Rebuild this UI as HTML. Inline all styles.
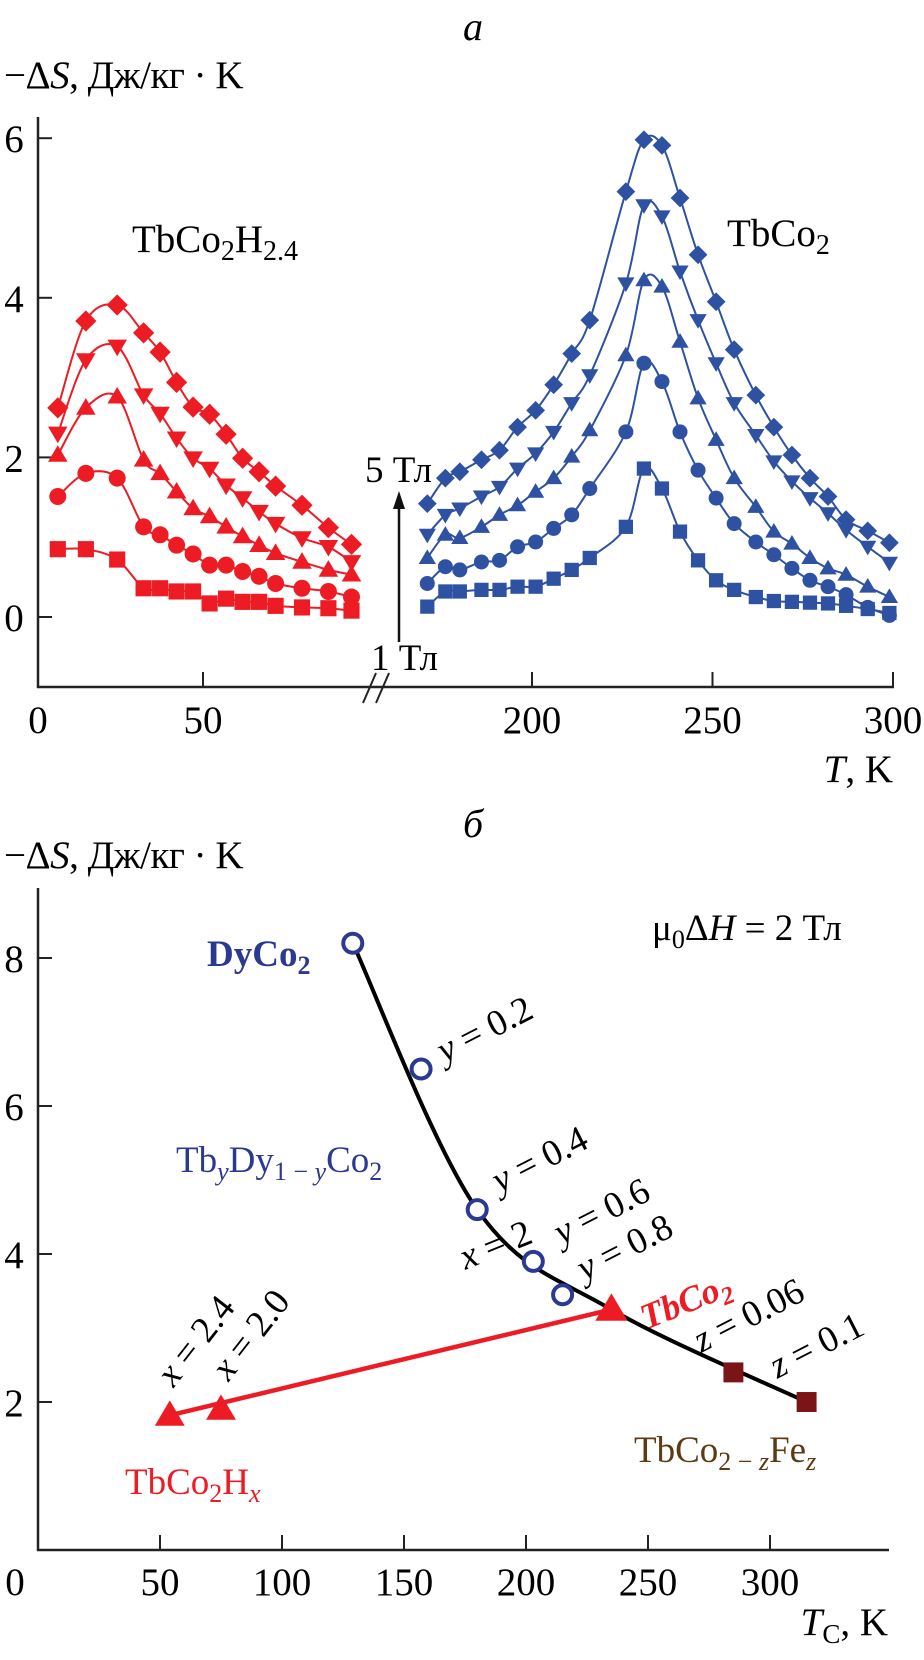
<!DOCTYPE html>
<html><head><meta charset="utf-8">
<style>
html,body{margin:0;padding:0;background:#fff;}
svg{display:block;font-family:"Liberation Serif",serif;}
</style></head>
<body>
<svg id="fig" width="924" height="1660" viewBox="0 0 924 1660" xmlns="http://www.w3.org/2000/svg">
<g id="top">
  <text x="473" y="40" font-size="40" font-style="italic" text-anchor="middle">а</text>
  <text x="4" y="88" font-size="39" letter-spacing="-0.5">−Δ<tspan font-style="italic">S</tspan>, Дж/кг · K</text>
  <line x1="38" y1="117" x2="38" y2="688" stroke="#222" stroke-width="2.5"/>
  <line x1="37" y1="687" x2="894" y2="687" stroke="#222" stroke-width="2.5"/>
  <g stroke="#222" stroke-width="2">
    <line x1="363" y1="703" x2="376" y2="673"/><line x1="376" y1="703" x2="389" y2="673"/>
  </g>
  <text x="893" y="782" font-size="39" text-anchor="end"><tspan font-style="italic">T</tspan>, K</text>
  <text x="215" y="252" font-size="39" text-anchor="middle">TbCo<tspan font-size="28" dy="8">2</tspan><tspan dy="-8">H</tspan><tspan font-size="28" dy="8">2.4</tspan></text>
  <text x="727" y="246" font-size="39">TbCo<tspan font-size="28" dy="8">2</tspan></text>
  <text x="432" y="482" font-size="37" text-anchor="end">5 Тл</text>
  <text x="438" y="670" font-size="37" text-anchor="end">1 Тл</text>
  <g>
    <line x1="399" y1="642" x2="399" y2="505" stroke="#111" stroke-width="2.5"/>
    <polygon points="399,491 393,509 405,509" fill="#111"/>
  </g>
  <g id="topAxes"></g>
  <g id="topSeries"></g>
</g>
<g id="bot">
  <text x="473" y="837" font-size="40" font-style="italic" text-anchor="middle">б</text>
  <text x="4" y="868" font-size="39" letter-spacing="-0.5">−Δ<tspan font-style="italic">S</tspan>, Дж/кг · K</text>
  <line x1="38" y1="888" x2="38" y2="1551" stroke="#222" stroke-width="2.5"/>
  <line x1="37" y1="1550" x2="889" y2="1550" stroke="#222" stroke-width="2.5"/>
  <text x="888" y="1635" font-size="39" text-anchor="end"><tspan font-style="italic">T</tspan><tspan font-size="27" dy="8">C</tspan><tspan dy="-8">, K</tspan></text>
  <text x="652" y="940" font-size="37">μ<tspan font-size="26" dy="8">0</tspan><tspan dy="-8">Δ</tspan><tspan font-style="italic">H</tspan> = 2 Тл</text>
  <text x="207" y="966" font-size="37" font-weight="bold" fill="#2b3990">DyCo<tspan font-size="26" dy="8">2</tspan></text>
  <text x="176" y="1172" font-size="37" fill="#2b3990">Tb<tspan font-size="26" dy="8" font-style="italic">y</tspan><tspan dy="-8">Dy</tspan><tspan font-size="26" dy="8">1 − </tspan><tspan font-size="26" font-style="italic">y</tspan><tspan dy="-8">Co</tspan><tspan font-size="26" dy="8">2</tspan></text>
  <text x="125" y="1494" font-size="37" fill="#ed1c24">TbCo<tspan font-size="26" dy="8">2</tspan><tspan dy="-8">H</tspan><tspan font-size="26" dy="8" font-style="italic">x</tspan></text>
  <text x="634" y="1462" font-size="37" fill="#5c3a14">TbCo<tspan font-size="26" dy="8">2 − </tspan><tspan font-size="26" font-style="italic">z</tspan><tspan dy="-8">Fe</tspan><tspan font-size="26" dy="8" font-style="italic">z</tspan></text>
  <text transform="translate(690,1312) rotate(-22)" font-size="36" font-weight="bold" font-style="italic" fill="#ed1c24" text-anchor="middle">TbCo<tspan font-size="25" dy="7">2</tspan></text>
  <g id="botAxes"></g>
  <g id="botSeries"></g>
  <g id="botLabels" font-size="37"></g>
</g>
</svg>
<script>
// ---------- Panel a data ----------
var leftT = [6,14.5,24,32,37,42,47,52,57,62,67,72,80,88,95];
var red5T = [2.62,3.71,3.91,3.56,3.32,2.94,2.63,2.54,2.29,1.99,1.82,1.64,1.40,1.12,0.91];
var red4T = [2.30,3.22,3.39,2.78,2.55,2.24,1.99,1.86,1.65,1.49,1.32,1.17,0.99,0.88,0.69];
var red3T = [2.03,2.62,2.76,1.97,1.80,1.57,1.36,1.26,1.13,1.01,0.90,0.80,0.69,0.59,0.53];
var red2T = [1.51,1.80,1.74,1.13,1.03,0.90,0.79,0.65,0.65,0.57,0.51,0.42,0.36,0.32,0.25];
var red1T = [0.85,0.85,0.72,0.36,0.36,0.32,0.32,0.17,0.23,0.19,0.19,0.14,0.12,0.11,0.08];
var rightT = [171,176,180,186,191,196,201,206,211,216,226,231,236,241,246,251,256,262,267,272,277,282,287,293,299];
var blue5T = [1.42,1.74,1.82,1.97,2.09,2.38,2.59,2.91,3.30,3.72,5.33,5.98,5.91,5.25,4.54,3.95,3.35,2.78,2.38,2.03,1.74,1.51,1.22,1.08,0.93];
var blue4T = [1.03,1.28,1.36,1.51,1.63,1.86,2.05,2.32,2.68,3.03,4.18,5.16,5.02,4.33,3.72,3.18,2.68,2.28,1.95,1.70,1.49,1.30,1.09,0.88,0.68];
var blue3T = [0.74,1.03,0.99,1.13,1.28,1.40,1.57,1.74,2.01,2.34,3.28,4.22,4.14,3.45,2.74,2.22,1.74,1.38,1.07,0.92,0.74,0.61,0.53,0.38,0.25];
var blue2T = [0.42,0.63,0.59,0.69,0.71,0.88,0.94,1.11,1.28,1.61,2.32,3.18,2.95,2.32,1.84,1.49,1.17,0.94,0.78,0.61,0.46,0.38,0.28,0.12,0.02];
var blue1T = [0.13,0.32,0.32,0.34,0.34,0.38,0.38,0.48,0.59,0.74,1.13,1.86,1.61,1.07,0.71,0.46,0.34,0.25,0.20,0.19,0.18,0.17,0.14,0.10,0.05];
var topYTicks = [0,2,4,6];
var topXTicksLeft = [0,50];
var topXTicksRight = [200,250,300];
// ---------- Panel b data ----------
var tbdyNames = ["DyCo2","y = 0.2","y = 0.4","y = 0.6","y = 0.8","TbCo2"];
var tbdyTc = [129,157,180,203,215,235];
var tbdyS = [8.2,6.5,4.6,3.9,3.45,3.25];
var feNames = ["z = 0.06","z = 0.1"];
var feTc = [285,315];
var feS = [2.4,2.0];
var hNames = ["x = 2.0","x = 2.4"];
var hTc = [75,54];
var hS = [1.9,1.82];
var botYTicks = [2,4,6,8];
var botXTicks = [0,50,100,150,200,250,300];

var NS = "http://www.w3.org/2000/svg";
function mk(tag, attrs, parent){var e=document.createElementNS(NS,tag);for(var k in attrs)e.setAttribute(k,attrs[k]);parent.appendChild(e);return e;}
function xL(t){return 38+t*3.3;}
function xR(t){return 532+(t-200)*3.61;}
function yA(v){return 617-v*79.8;}
function xB(t){return 38+t*2.44;}
function yB(v){return 1550-v*74;}
function smooth(pts){
  var d="M"+pts[0][0].toFixed(1)+","+pts[0][1].toFixed(1);
  for(var i=0;i<pts.length-1;i++){
    var p0=pts[i-1]||pts[i],p1=pts[i],p2=pts[i+1],p3=pts[i+2]||p2;
    var c1=[p1[0]+(p2[0]-p0[0])/6,p1[1]+(p2[1]-p0[1])/6];
    var c2=[p2[0]-(p3[0]-p1[0])/6,p2[1]-(p3[1]-p1[1])/6];
    d+=" C"+c1[0].toFixed(1)+","+c1[1].toFixed(1)+" "+c2[0].toFixed(1)+","+c2[1].toFixed(1)+" "+p2[0].toFixed(1)+","+p2[1].toFixed(1);
  }
  return d;
}
function marker(shape,x,y,s,color,parent){
  var e;
  if(shape==="diamond"){e=mk("polygon",{points:x+","+(y-s*1.25)+" "+(x+s*1.25)+","+y+" "+x+","+(y+s*1.25)+" "+(x-s*1.25)+","+y,fill:color},parent);}
  else if(shape==="down"){e=mk("polygon",{points:(x-s*1.15)+","+(y-s*0.8)+" "+(x+s*1.15)+","+(y-s*0.8)+" "+x+","+(y+s*1.15),fill:color},parent);}
  else if(shape==="up"){e=mk("polygon",{points:(x-s*1.15)+","+(y+s*0.8)+" "+(x+s*1.15)+","+(y+s*0.8)+" "+x+","+(y-s*1.15),fill:color},parent);}
  else if(shape==="circle"){e=mk("circle",{cx:x,cy:y,r:s,fill:color},parent);}
  else {e=mk("rect",{x:x-s*0.95,y:y-s*0.95,width:s*1.9,height:s*1.9,fill:color},parent);}
  return e;
}
// ---------- Panel a axes ----------
var ta=document.getElementById("topAxes");
topYTicks.forEach(function(v){
  var l=mk("line",{x1:38,y1:yA(v),x2:52,y2:yA(v),stroke:"#222","stroke-width":2},ta);
  
  
  var t=mk("text",{x:14,y:yA(v)+14,"font-size":39,"text-anchor":"middle"},ta);t.textContent=v;
  
  
});
function topXTick(x,v){
  if(v!==0){var l=mk("line",{x1:x,y1:687,x2:x,y2:672,stroke:"#222","stroke-width":2},ta);
  
  }
  var t=mk("text",{x:x,y:733,"font-size":39,"text-anchor":"middle"},ta);t.textContent=v;
  
  
}
topXTicksLeft.forEach(function(v){topXTick(xL(v),v);});
topXTicksRight.forEach(function(v){topXTick(xR(v),v);});
// ---------- Panel a series ----------
var ts=document.getElementById("topSeries");
var RED="#ed1c24",BLUE="#2e51a2";
var sets=[
 [leftT,red5T,xL,RED,"diamond","red-5T"],[leftT,red4T,xL,RED,"down","red-4T"],[leftT,red3T,xL,RED,"up","red-3T"],[leftT,red2T,xL,RED,"circle","red-2T"],[leftT,red1T,xL,RED,"square","red-1T"],
 [rightT,blue5T,xR,BLUE,"diamond","blue-5T"],[rightT,blue4T,xR,BLUE,"down","blue-4T"],[rightT,blue3T,xR,BLUE,"up","blue-3T"],[rightT,blue2T,xR,BLUE,"circle","blue-2T"],[rightT,blue1T,xR,BLUE,"square","blue-1T"]
];
sets.forEach(function(s){
  var g=mk("g",{},ts);
  
  
  var pts=s[0].map(function(t,i){return [s[2](t),yA(s[1][i])];});
  var p=mk("path",{d:smooth(pts),fill:"none",stroke:s[3],"stroke-width":2},g);
  
  
  var sz = s[3]===RED ? 8.5 : 7.5;
  pts.forEach(function(pt){
    var m=marker(s[4],pt[0],pt[1],sz,s[3],g);
    
    
  });
});
// ---------- Panel b axes ----------
var ba=document.getElementById("botAxes");
botYTicks.forEach(function(v){
  var l=mk("line",{x1:38,y1:yB(v),x2:52,y2:yB(v),stroke:"#222","stroke-width":2},ba);
  
  
  var t=mk("text",{x:14,y:yB(v)+14,"font-size":39,"text-anchor":"middle"},ba);t.textContent=v;
  
  
});
botXTicks.forEach(function(v){
  if(v!==0){var l=mk("line",{x1:xB(v),y1:1550,x2:xB(v),y2:1535,stroke:"#222","stroke-width":2},ba);
  
  }
  var t=mk("text",{x:v===0?15:xB(v),y:1595,"font-size":39,"text-anchor":"middle"},ba);t.textContent=v;
  
  
});
// ---------- Panel b series ----------
var bs=document.getElementById("botSeries");
// smooth guide curve through a subset of the data points (fit-like)
var curveIdx=[0,2,5];
var curvePts=curveIdx.map(function(i){return [xB(tbdyTc[i]),yB(tbdyS[i])];}).concat([[xB(feTc[1]),yB(feS[1])]]);
var bc=mk("path",{d:smooth(curvePts),fill:"none",stroke:"#000","stroke-width":4},bs);


var tb=[xB(tbdyTc[5]),yB(tbdyS[5])];
var hLast=[xB(hTc[hTc.length-1]),yB(hS[hS.length-1])];
var rl=mk("line",{x1:tb[0],y1:tb[1],x2:hLast[0],y2:hLast[1],stroke:"#ed1c24","stroke-width":4.5},bs);


for(var i=0;i<5;i++){
  var c=mk("circle",{cx:xB(tbdyTc[i]),cy:yB(tbdyS[i]),r:9.5,fill:"#fff",stroke:"#2b3990","stroke-width":4},bs);
  
  
}
var tt=marker("up",tb[0],tb[1],14,"#ed1c24",bs);


hTc.forEach(function(t,i){
  var m=marker("up",xB(t),yB(hS[i]),13,"#ed1c24",bs);
  
  
});
feTc.forEach(function(t,i){
  var m=marker("square",xB(t),yB(feS[i]),10.5,"#7b1416",bs);
  
  
});
// labels (rotated)
var bl=document.getElementById("botLabels");
function rlabel(txt,x,y,ang,name){
  var t=mk("text",{transform:"translate("+x+","+y+") rotate("+ang+")","text-anchor":"middle"},bl);
  var parts=txt.split(" = ");
  var a=document.createElementNS(NS,"tspan");a.setAttribute("font-style","italic");a.textContent=parts[0];t.appendChild(a);
  var b=document.createElementNS(NS,"tspan");b.textContent=" = "+parts[1];t.appendChild(b);
  
  
}
rlabel(tbdyNames[1],490,1040,-27,'label-y02');
rlabel(tbdyNames[2],545,1170,-27,'label-y04');
rlabel(tbdyNames[3],607,1222,-27,'label-y06');
rlabel(tbdyNames[4],630,1258,-27,'label-y08');
rlabel("x = 2",500,1256,-22,'label-x2');
rlabel(feNames[0],754,1326,-27,'label-z006');
rlabel(feNames[1],822,1356,-27,'label-z01');
rlabel(hNames[1],205,1348,-52,'label-x24');
rlabel(hNames[0],260,1342,-52,'label-x20');
</script>
</body></html>
